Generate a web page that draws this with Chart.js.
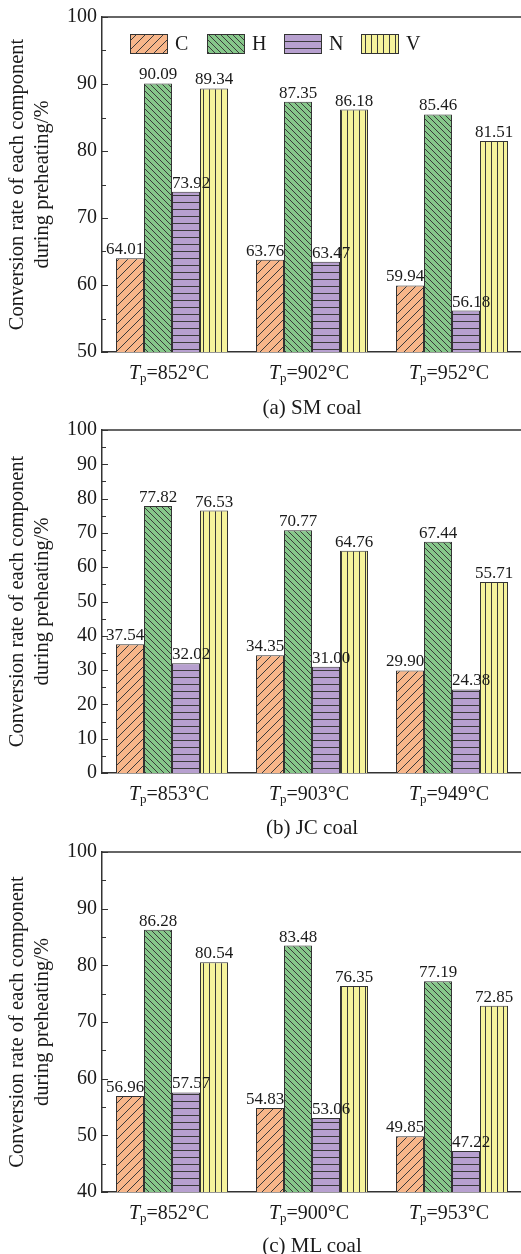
<!DOCTYPE html>
<html>
<head>
<meta charset="utf-8">
<script src="https://cdn.jsdelivr.net/npm/chart.js@4.4.1/dist/chart.umd.min.js"></script>
<style>
html,body{margin:0;padding:0;background:#fff;overflow:hidden;width:521px;height:1254px;position:relative;}
canvas{position:absolute;left:0;display:block;}
.cap{position:absolute;left:102px;width:420px;text-align:center;font-family:"Liberation Serif","Times New Roman",serif;font-size:21px;line-height:24px;color:#1a1a1a;z-index:2;}
</style>
</head>
<body>
<canvas id="c1" width="523" height="395" style="top:0px"></canvas>
<canvas id="c2" width="523" height="410" style="top:405px"></canvas>
<canvas id="c3" width="523" height="439" style="top:815px"></canvas>
<div class="cap" id="cap1" style="top:395px"></div>
<div class="cap" id="cap2" style="top:815px"></div>
<div class="cap" id="cap3" style="top:1233px"></div>
<script>
// ---------- data ----------
const seriesNames = ['C', 'H', 'N', 'V'];
const yTitleLines = ['Conversion rate of each component', 'during preheating/%'];
const captions = ['(a) SM coal', '(b) JC coal', '(c) ML coal'];

const smTemps = ['852', '902', '952'];
const smC = [64.01, 63.76, 59.94];
const smH = [90.09, 87.35, 85.46];
const smN = [73.92, 63.47, 56.18];
const smV = [89.34, 86.18, 81.51];
const smRange = [50, 100];

const jcTemps = ['853', '903', '949'];
const jcC = [37.54, 34.35, 29.90];
const jcH = [77.82, 70.77, 67.44];
const jcN = [32.02, 31.00, 24.38];
const jcV = [76.53, 64.76, 55.71];
const jcRange = [0, 100];

const mlTemps = ['852', '900', '953'];
const mlC = [56.96, 54.83, 49.85];
const mlH = [86.28, 83.48, 77.19];
const mlN = [57.57, 53.06, 47.22];
const mlV = [80.54, 76.35, 72.85];
const mlRange = [40, 100];

// ---------- styles ----------
const FONT = '"Liberation Serif","Times New Roman",serif';
const INK = '#1a1a1a';
const AXIS = '#333333';
const fills = ['#F7B68A', '#86C78A', '#B7A0CF', '#F6F39C'];
const kinds = ['slash', 'back', 'horiz', 'vert'];
const labelShift = [-5, 0, 5, 0];

function makePattern(kind, fill) {
  const s = {slash: 9, back: 6, horiz: 7, vert: 6}[kind];
  const c = document.createElement('canvas');
  c.width = s; c.height = s;
  const g = c.getContext('2d');
  g.fillStyle = fill; g.fillRect(0, 0, s, s);
  g.strokeStyle = '#3a3a3a'; g.lineWidth = 1;
  g.beginPath();
  if (kind === 'slash') {
    g.moveTo(-1, 1); g.lineTo(1, -1);
    g.moveTo(0, s); g.lineTo(s, 0);
    g.moveTo(s - 1, s + 1); g.lineTo(s + 1, s - 1);
  } else if (kind === 'back') {
    g.moveTo(-1, s - 1); g.lineTo(1, s + 1);
    g.moveTo(0, 0); g.lineTo(s, s);
    g.moveTo(s - 1, -1); g.lineTo(s + 1, 1);
  } else if (kind === 'horiz') {
    g.moveTo(0, s - 0.5); g.lineTo(s, s - 0.5);
  } else {
    g.moveTo(s - 0.5, 0); g.lineTo(s - 0.5, s);
  }
  g.stroke();
  return g.createPattern(c, 'repeat');
}
const patterns = kinds.map((k, i) => makePattern(k, fills[i]));

// ---------- plugins ----------
const framePlugin = {
  id: 'frame',
  afterDraw(chart) {
    const {ctx, chartArea: a} = chart;
    const y = chart.scales.y;
    ctx.save();
    ctx.strokeStyle = AXIS;
    ctx.lineWidth = 1.5;
    ctx.beginPath();
    ctx.moveTo(a.left, a.top); ctx.lineTo(a.right, a.top);
    ctx.stroke();
    ctx.lineWidth = 1;
    y.ticks.forEach(t => {
      const py = Math.round(y.getPixelForValue(t.value)) + 0.5;
      const len = t.value % 10 === 0 ? 6 : 4;
      ctx.beginPath();
      ctx.moveTo(a.left, py); ctx.lineTo(a.left + len, py);
      ctx.stroke();
    });
    ctx.restore();
  }
};

const valuePlugin = {
  id: 'values',
  afterDatasetsDraw(chart) {
    const ctx = chart.ctx;
    ctx.save();
    ctx.font = '17px ' + FONT;
    ctx.fillStyle = INK;
    ctx.textAlign = 'center';
    ctx.textBaseline = 'alphabetic';
    chart.data.datasets.forEach((ds, i) => {
      const meta = chart.getDatasetMeta(i);
      meta.data.forEach((el, j) => {
        ctx.fillText(ds.data[j].toFixed(2), el.x + labelShift[i], el.y - 4);
      });
    });
    ctx.restore();
  }
};

const xLabelPlugin = {
  id: 'xlabels',
  afterDraw(chart) {
    const ctx = chart.ctx;
    const x = chart.scales.x;
    const yc = chart.chartArea.bottom + 22;
    ctx.save();
    ctx.fillStyle = INK;
    ctx.textBaseline = 'middle';
    ctx.textAlign = 'left';
    chart.data.labels.forEach((lab, i) => {
      const cx = x.getPixelForValue(i);
      const fT = 'italic 20px ' + FONT, fP = '13px ' + FONT, fR = '20px ' + FONT;
      const rest = '=' + lab + '°C';
      ctx.font = fT; const wT = ctx.measureText('T').width;
      ctx.font = fP; const wP = ctx.measureText('p').width;
      ctx.font = fR; const wR = ctx.measureText(rest).width;
      let px = cx - (wT + wP + wR) / 2 - 3;
      ctx.font = fT; ctx.fillText('T', px, yc); px += wT;
      ctx.font = fP; ctx.fillText('p', px, yc + 5); px += wP;
      ctx.font = fR; ctx.fillText(rest, px, yc);
    });
    ctx.restore();
  }
};

const legendPlugin = {
  id: 'customLegend',
  afterDraw(chart, args, opts) {
    if (!opts.show) return;
    const ctx = chart.ctx;
    const a = chart.chartArea;
    const top = a.top + 17;
    ctx.save();
    ctx.font = '20px ' + FONT;
    ctx.textBaseline = 'middle';
    ctx.textAlign = 'left';
    chart.data.datasets.forEach((ds, i) => {
      const bx = a.left + 28 + i * 77;
      ctx.fillStyle = ds.backgroundColor;
      ctx.fillRect(bx, top, 38, 20);
      ctx.strokeStyle = AXIS; ctx.lineWidth = 1;
      ctx.strokeRect(bx + 0.5, top + 0.5, 37, 19);
      ctx.fillStyle = INK;
      ctx.fillText(ds.label, bx + 45, top + 11);
    });
    ctx.restore();
  }
};

// ---------- charts ----------
function build(id, temps, series, range, padTop, xHeight, showLegend) {
  new Chart(document.getElementById(id), {
    type: 'bar',
    data: {
      labels: temps,
      datasets: series.map((d, i) => ({
        label: seriesNames[i],
        data: d,
        backgroundColor: patterns[i],
        borderColor: AXIS,
        borderWidth: 1,
        barPercentage: 1.0,
        categoryPercentage: 0.8
      }))
    },
    options: {
      responsive: false,
      animation: false,
      devicePixelRatio: 1,
      layout: {padding: {top: padTop, left: 0, right: 1, bottom: 0}},
      plugins: {
        legend: {display: false},
        tooltip: {enabled: false},
        customLegend: {show: showLegend}
      },
      scales: {
        x: {
          grid: {display: false, drawTicks: false},
          border: {display: true, color: AXIS, width: 1.5},
          ticks: {display: false},
          afterFit: s => { s.height = xHeight; }
        },
        y: {
          min: range[0], max: range[1],
          grid: {display: false, drawTicks: false},
          border: {display: true, color: AXIS, width: 1.5},
          ticks: {
            stepSize: 5, autoSkip: false, padding: 5,
            color: INK,
            font: {family: FONT, size: 20},
            callback: v => (v % 10 === 0 ? String(v) : '')
          },
          title: {
            display: true,
            text: yTitleLines,
            color: INK,
            font: {family: FONT, size: 20.5, lineHeight: 25 / 20.5},
            padding: {top: 5, bottom: 0}
          },
          afterFit: s => { s.width = 102; }
        }
      }
    },
    plugins: [framePlugin, valuePlugin, xLabelPlugin, legendPlugin]
  });
}

build('c1', smTemps, [smC, smH, smN, smV], smRange, 15, 395 - 352, true);
build('c2', jcTemps, [jcC, jcH, jcN, jcV], jcRange, 25, 815 - 773, false);
build('c3', mlTemps, [mlC, mlH, mlN, mlV], mlRange, 37, 1254 - 1192, false);

document.getElementById('cap1').textContent = captions[0];
document.getElementById('cap2').textContent = captions[1];
document.getElementById('cap3').textContent = captions[2];
</script>
</body>
</html>
